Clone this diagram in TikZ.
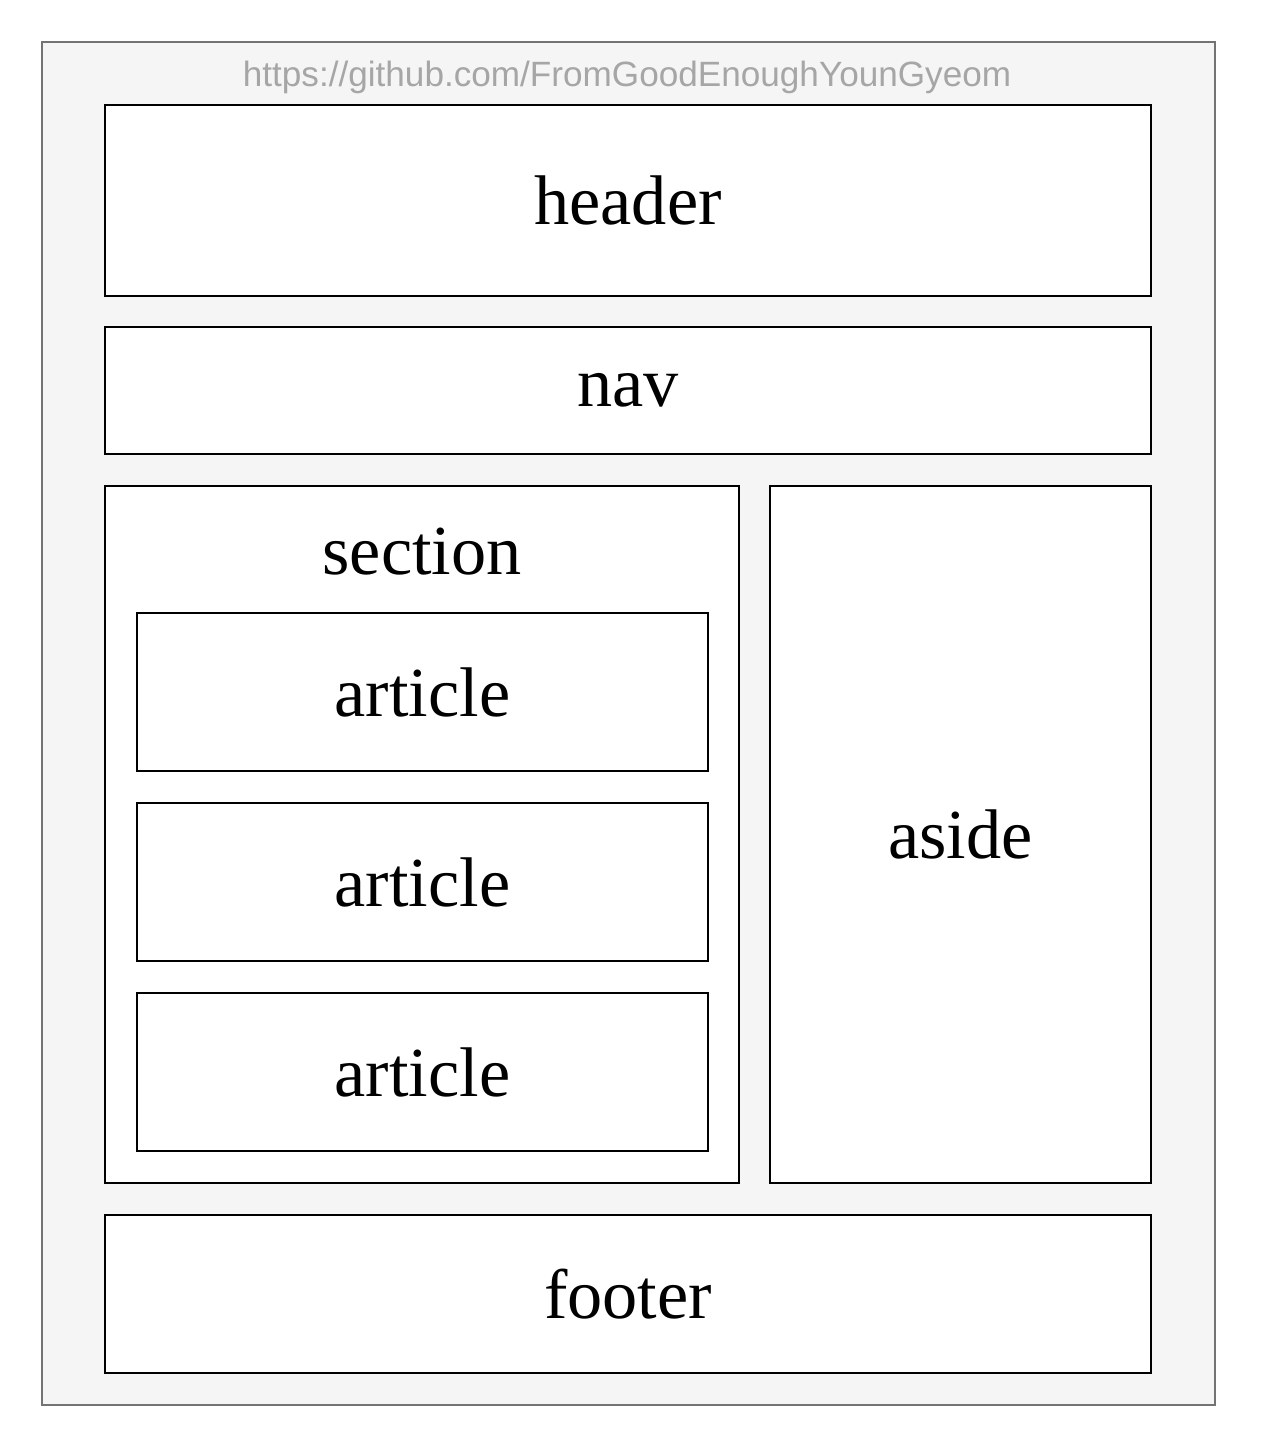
\documentclass[tikz,border=0pt]{standalone}
\usepackage{fontspec}
\setmainfont{Liberation Serif}
\setsansfont{Liberation Sans}
\usetikzlibrary{positioning}
\tikzset{
        box/.style={draw, line width=1.2pt, fill=white, inner sep=0pt,
                    font=\fontsize{40}{42}\selectfont},
        page/.style={draw=black!55, line width=1.2pt, fill=black!4},
        url/.style={font=\sffamily\fontsize{20}{24}\selectfont, text=black!35},
}
\begin{document}
\begin{tikzpicture}[x=0.02cm, y=-0.02cm]
    \useasboundingbox (0,0) rectangle (1266,1436);
    \node[page, minimum width=23.46cm, minimum height=27.26cm] (page) at (628.5,723.5) {};
    \node[url] (link) at (627,77) {https://github.com/FromGoodEnoughYounGyeom};

    \node[box, minimum width=20.92cm, minimum height=3.82cm] (header) at (628,200.5) {header};
    \node[box, minimum width=20.92cm, minimum height=2.54cm] (nav) at (628,390.5) {nav};

    \node[box, minimum width=12.68cm, minimum height=13.94cm] (section) at (422,834.5) {};
    \node[font=\fontsize{40}{42}\selectfont] (sectionlabel) at (422,552) {section};
    \node[box, minimum width=11.42cm, minimum height=3.16cm] (article1) at (422.5,692) {article};
    \node[box, minimum width=11.42cm, minimum height=3.16cm] (article2) at (422.5,882) {article};
    \node[box, minimum width=11.42cm, minimum height=3.16cm] (article3) at (422.5,1072) {article};

    \node[box, minimum width=7.62cm, minimum height=13.94cm] (aside) at (960.5,834.5) {aside};
    \node[box, minimum width=20.92cm, minimum height=3.16cm] (footer) at (628,1294) {footer};
\end{tikzpicture}
\end{document}
